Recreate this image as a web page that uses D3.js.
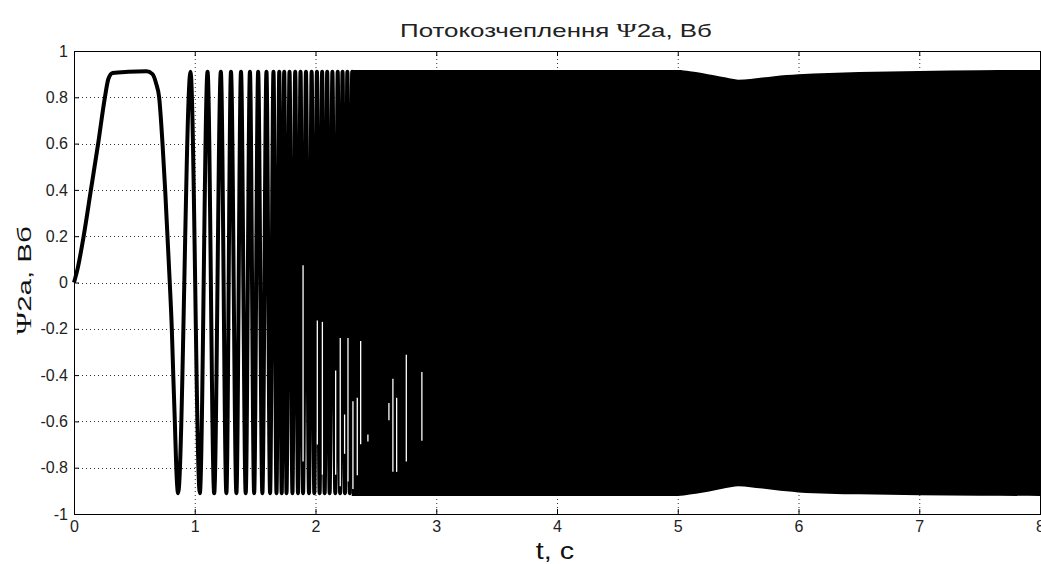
<!DOCTYPE html>
<html>
<head>
<meta charset="utf-8">
<script src="https://cdn.jsdelivr.net/npm/d3@7"></script>
<style>
  html, body { margin: 0; padding: 0; background: #fff; }
  svg { display: block; font-family: "Liberation Sans", Arial, sans-serif; }
  .tick text { fill: #222; font-size: 16px; }
  .axis path, .axis line { stroke: #000; }
  .grid line { stroke: #333; stroke-dasharray: 1,3; }
</style>
</head>
<body>
<svg id="chart" width="1041" height="564"></svg>
<script>
// start-up transient (t, psi)
const startT = [0, 0.03, 0.08, 0.14, 0.2, 0.256, 0.285, 0.32, 0.45, 0.6, 0.65, 0.68, 0.705, 0.733, 0.755, 0.774, 0.793, 0.81, 0.822, 0.835, 0.847, 0.862];
const startV = [0, 0.06, 0.2, 0.4, 0.6, 0.8, 0.88, 0.905, 0.91, 0.912, 0.9, 0.86, 0.8, 0.6, 0.4, 0.2, 0, -0.2, -0.4, -0.6, -0.8, -0.91];

// times of the individual maxima / minima that can still be told apart
const peakT = [0.965, 1.106, 1.216, 1.300, 1.383, 1.457, 1.525, 1.594, 1.652, 1.700, 1.741, 1.785, 1.832, 1.876, 1.921, 1.968, 2.012, 2.055, 2.097, 2.140, 2.184, 2.224, 2.264, 2.304, 2.344];
const troughT = [1.042, 1.161, 1.262, 1.345, 1.422, 1.492, 1.560, 1.624, 1.677, 1.720, 1.760, 1.809, 1.855, 1.897, 1.946, 1.990, 2.034, 2.076, 2.117, 2.164, 2.204, 2.244, 2.284, 2.324];
const peakV = 0.91;
const troughV = -0.91;

// envelope of the dense part (solid black band)
const envT     = [2.3,   3,     4,     5,     5.1,   5.2,   5.3,   5.4,   5.5,   5.6,   5.7,   5.8,   5.9,   6,     6.25,  6.5,   7,     7.5,   8];
const envUpper = [0.918, 0.918, 0.918, 0.918, 0.913, 0.905, 0.895, 0.885, 0.876, 0.879, 0.885, 0.891, 0.896, 0.9,   0.905, 0.909, 0.914, 0.917, 0.918];
const envLower = [-0.922,-0.922,-0.922,-0.922,-0.916,-0.908,-0.898,-0.888,-0.88, -0.884,-0.89, -0.896,-0.902,-0.907,-0.912,-0.915,-0.919,-0.921,-0.922];

// thin white gaps left inside the dense band
const gapT  = [1.897, 2.015, 2.057, 2.167, 2.205, 2.241, 2.269, 2.31, 2.346, 2.374, 2.434, 2.608, 2.641, 2.672, 2.752, 2.881];
const gapHi = [0.074, -0.164, -0.17, -0.38, -0.24, -0.57, -0.24, -0.513, -0.498, -0.253, -0.657, -0.52, -0.416, -0.498, -0.312, -0.387];
const gapLo = [-0.773, -0.70, -0.83, -0.83, -0.88, -0.74, -0.86, -0.892, -0.833, -0.699, -0.687, -0.595, -0.818, -0.818, -0.773, -0.684];

const xTicks = [0, 1, 2, 3, 4, 5, 6, 7, 8];
const yTicks = [-1, -0.8, -0.6, -0.4, -0.2, 0, 0.2, 0.4, 0.6, 0.8, 1];

const svg = d3.select('#chart');
const plot = { left: 74, right: 1040, top: 51, bottom: 514 };

const x = d3.scaleLinear().domain([0, 8]).range([plot.left, plot.right]);
const y = d3.scaleLinear().domain([-1, 1]).range([plot.bottom, plot.top]);

// --- dotted grid ---
const grid = svg.append('g').attr('class', 'grid');
grid.selectAll('.gx').data(xTicks.filter(d => d > 0 && d < 8)).join('line')
  .attr('x1', d => x(d) + 0.5).attr('x2', d => x(d) + 0.5)
  .attr('y1', plot.top).attr('y2', plot.bottom);
grid.selectAll('.gy').data(yTicks.filter(d => d > -1 && d < 1)).join('line')
  .attr('y1', d => Math.round(y(d)) + 0.5).attr('y2', d => Math.round(y(d)) + 0.5)
  .attr('x1', plot.left).attr('x2', plot.right);

// --- signal ---
const pts = startT.map((t, i) => ({ t, v: startV[i] }))
  .concat(peakT.map(t => ({ t, v: peakV })))
  .concat(troughT.map(t => ({ t, v: troughV })))
  .sort((a, b) => a.t - b.t);

const line = d3.line().x(d => x(d.t)).y(d => y(d.v)).curve(d3.curveMonotoneX);
svg.append('path')
  .datum(pts)
  .attr('d', line)
  .attr('fill', 'none')
  .attr('stroke', '#000')
  .attr('stroke-width', 4)
  .attr('stroke-linejoin', 'round');

const env = envT.map((t, i) => ({ t, hi: envUpper[i], lo: envLower[i] }));
svg.append('path')
  .datum(env)
  .attr('d', d3.area().x(d => x(d.t)).y0(d => y(d.lo)).y1(d => y(d.hi)).curve(d3.curveMonotoneX))
  .attr('fill', '#000');

svg.append('g').selectAll('line')
  .data(gapT.map((t, i) => ({ t, hi: gapHi[i], lo: gapLo[i] })))
  .join('line')
  .attr('x1', d => x(d.t)).attr('x2', d => x(d.t))
  .attr('y1', d => y(d.hi)).attr('y2', d => y(d.lo))
  .attr('stroke', '#fff')
  .attr('stroke-width', 1.3);

// --- axes (MATLAB style, ticks inside) ---
const fmt = d => String(d);
svg.append('g').attr('class', 'axis')
  .attr('transform', `translate(0,${plot.bottom})`)
  .call(d3.axisBottom(x).tickValues(xTicks).tickFormat(fmt).tickSize(-5).tickPadding(7))
  .call(g => g.select('.domain').remove());
svg.append('g').attr('class', 'axis')
  .attr('transform', `translate(0,${plot.top})`)
  .call(d3.axisTop(x).tickValues(xTicks).tickFormat('').tickSize(-5))
  .call(g => g.select('.domain').remove());
svg.append('g').attr('class', 'axis')
  .attr('transform', `translate(${plot.left},0)`)
  .call(d3.axisLeft(y).tickValues(yTicks).tickFormat(fmt).tickSize(-5).tickPadding(6))
  .call(g => g.select('.domain').remove());

svg.append('rect')
  .attr('x', plot.left + 0.5).attr('y', plot.top + 0.5)
  .attr('width', plot.right - plot.left).attr('height', plot.bottom - plot.top)
  .attr('fill', 'none').attr('stroke', '#000');

// --- labels (the original glyphs are drawn wide, so stretch along the text) ---
const title = svg.append('text')
  .attr('transform', 'translate(556,36.5) scale(1.48,1)')
  .attr('text-anchor', 'middle')
  .style('font-size', '17.5px').attr('fill', '#222');
title.append('tspan').text('Потокозчеплення ');
title.append('tspan').style('font-family', '"Liberation Serif", serif').style('font-size', '18.5px').text('Ψ');
title.append('tspan').text('2a, Вб');

svg.append('text')
  .attr('transform', 'translate(555,559) scale(1.25,1)')
  .attr('text-anchor', 'middle')
  .style('font-size', '23px').attr('fill', '#111')
  .text('t, c');

const ylab = svg.append('text')
  .attr('transform', `translate(31,${y(0) - 2}) rotate(-90) scale(1.55,1)`)
  .attr('text-anchor', 'middle')
  .style('font-size', '19px').attr('fill', '#111');
ylab.append('tspan').style('font-family', '"Liberation Serif", serif').style('font-size', '20px').text('Ψ');
ylab.append('tspan').text('2a, Вб');
</script>
</body>
</html>
